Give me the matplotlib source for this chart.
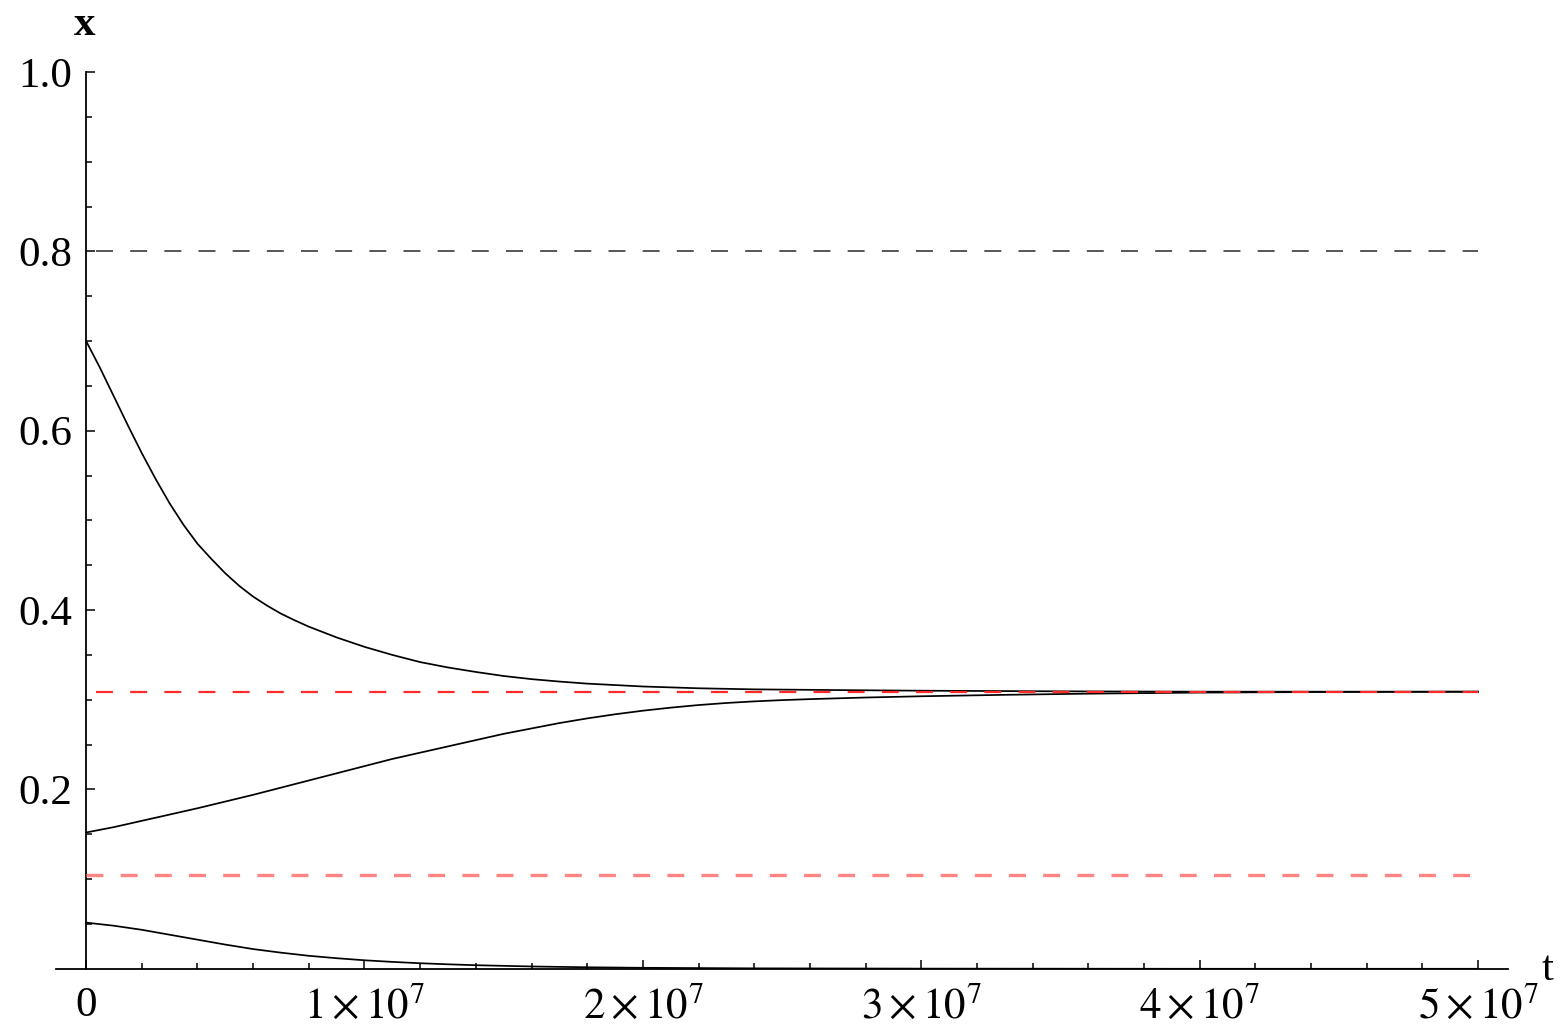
import matplotlib
matplotlib.use("Agg")
import matplotlib.pyplot as plt

plt.rcParams['font.family'] = ['Liberation Serif', 'DejaVu Serif']
plt.rcParams['mathtext.fontset'] = 'stix'
plt.rcParams['lines.scale_dashes'] = False

# trajectories x(t), t in units of 1e6
t_high = [0, 0.5, 1.0, 1.5, 2.0, 2.5, 3.0, 3.5, 4.0, 4.5, 5.0, 5.5, 6.0,
          6.5, 7.0, 7.5, 8.0, 9.0, 10.0, 11.0, 12.0, 13.0, 14.0, 15.0,
          16.0, 17.0, 18.0, 20.0, 22.0, 24.0, 27.0, 30.0, 35.0, 40.0, 50.0]
x_high = [0.700, 0.670, 0.638, 0.606, 0.575, 0.546, 0.519, 0.495, 0.474,
          0.457, 0.441, 0.427, 0.415, 0.405, 0.396, 0.3885, 0.3815, 0.3695,
          0.359, 0.350, 0.342, 0.336, 0.331, 0.3265, 0.323, 0.3203, 0.318,
          0.3148, 0.3128, 0.3116, 0.3108, 0.3101, 0.3094, 0.309, 0.309]

t_mid = [0, 1, 2, 3, 4, 5, 6, 7, 8, 9, 10, 11, 12, 13, 14, 15, 16, 17, 18,
         19, 20, 21, 22, 23, 24, 25, 26, 28, 30, 33, 36, 40, 45, 50]
x_mid = [0.152, 0.158, 0.165, 0.172, 0.179, 0.1865, 0.194, 0.202, 0.210,
         0.218, 0.226, 0.234, 0.241, 0.248, 0.255, 0.262, 0.268, 0.274,
         0.2792, 0.2838, 0.2878, 0.2912, 0.2941, 0.2964, 0.2982, 0.2996,
         0.3007, 0.3025, 0.3039, 0.3055, 0.3068, 0.308, 0.3087, 0.309]

t_low = [0, 1, 2, 3, 4, 5, 6, 7, 8, 9, 10, 11, 12, 13, 14, 16, 18, 20, 24,
         30, 40, 50]
x_low = [0.0515, 0.048, 0.0435, 0.038, 0.0325, 0.027, 0.022, 0.018, 0.0145,
         0.0118, 0.0095, 0.0077, 0.0062, 0.005, 0.004, 0.0026, 0.0017,
         0.0011, 0.0005, 0.0002, 0.0, 0.0]

# fixed points
t_span = [0, 5e7]
level_upper = 0.8
level_stable = 0.309
level_unstable = 0.105

xtick_vals = [0, 1e7, 2e7, 3e7, 4e7, 5e7]
xtick_text = ["0", r"$1\times10^{7}$", r"$2\times10^{7}$", r"$3\times10^{7}$",
              r"$4\times10^{7}$", r"$5\times10^{7}$"]
ytick_vals = [0.2, 0.4, 0.6, 0.8, 1.0]
ytick_text = ["0.2", "0.4", "0.6", "0.8", "1.0"]

fig = plt.figure(figsize=(15.6, 10.35), dpi=100)
ax = fig.add_axes([55.5 / 1560, (1035 - 968.8) / 1035,
                   (1508 - 55.5) / 1560, (968.8 - 72) / 1035])
ax.set_xlim(-1.1e6, 5.108e7)
ax.set_ylim(0, 1.0)

for s in ['top', 'right']:
    ax.spines[s].set_visible(False)
ax.spines['left'].set_position(('data', 0))
ax.spines['bottom'].set_position(('data', 0))
for s in ['left', 'bottom']:
    ax.spines[s].set_linewidth(1.3)

scale = 1e6
ax.plot([v * scale for v in t_high], x_high, color='black', lw=1.25, zorder=3)
ax.plot([v * scale for v in t_mid], x_mid, color='black', lw=1.25, zorder=3)
ax.plot([v * scale for v in t_low], x_low, color='black', lw=1.25, zorder=3)

ax.plot(t_span, [level_upper] * 2, color='#3a3a3a', lw=1.2,
        linestyle=(17.4, (12.2, 12.4)), zorder=4)
ax.plot(t_span, [level_stable] * 2, color='#ff2a2a', lw=1.6,
        linestyle=(17.4, (12.2, 12.4)), zorder=4)
ax.plot(t_span, [level_unstable] * 2, color='#ff8585', lw=2.4,
        linestyle=(0, (12.2, 12.4)), zorder=4)

ax.set_xticks(xtick_vals)
ax.set_xticklabels(xtick_text)
ax.set_xticks([i * 2e6 for i in range(26)], minor=True)
ax.set_yticks(ytick_vals)
ax.set_yticklabels(ytick_text)
ax.set_yticks([0.05 * i for i in range(1, 20)], minor=True)

ax.tick_params(axis='both', which='both', direction='in', width=1.1,
               labelsize=31, colors='black')
ax.tick_params(axis='both', which='major', length=6.5)
ax.tick_params(axis='both', which='minor', length=4.2)
ax.tick_params(axis='x', which='major', pad=13)
ax.tick_params(axis='y', which='major', pad=10)

fig.text(85 / 1560, 1 - 25 / 1035, "x", fontsize=31, fontweight='bold',
         ha='center', va='center')
fig.text(1548 / 1560, 1 - 970 / 1035, "t", fontsize=31,
         ha='center', va='center')

fig.savefig("out.png", dpi=100, facecolor='white')
